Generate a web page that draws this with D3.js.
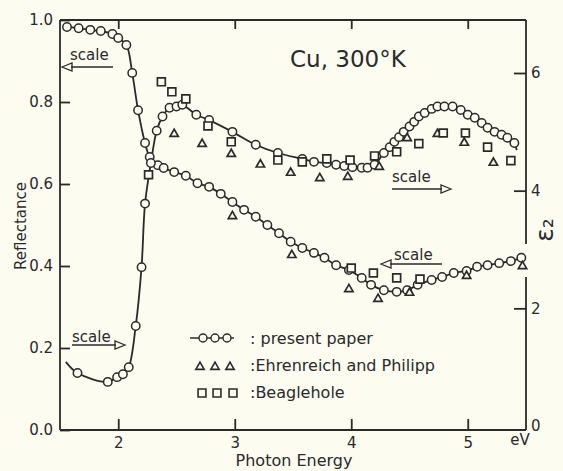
<!DOCTYPE html>
<html>
<head>
<meta charset="utf-8">
<script src="https://cdnjs.cloudflare.com/ajax/libs/d3/7.8.5/d3.min.js"></script>
<style>
body { margin: 0; background: #fcfcf1; }
text { font-family: "DejaVu Sans", sans-serif; fill: #2a2a2a; }
</style>
</head>
<body>
<div id="chart"></div>
<script>
// reflectance, present paper (left scale)
var reflE = [1.56,1.66,1.76,1.85,1.95,2.00,2.07,2.12,2.17,2.23,2.27,2.34,2.39,2.48,2.58,2.68,2.78,2.88,2.98,3.08,3.18,3.28,3.38,3.48,3.58,3.68,3.77,3.87,3.98,4.09,4.17,4.28,4.39,4.48,4.57,4.69,4.78,4.88,4.99,5.08,5.17,5.27,5.37,5.46];
var reflR = [0.983,0.980,0.976,0.973,0.966,0.956,0.939,0.871,0.780,0.700,0.666,0.646,0.639,0.629,0.620,0.602,0.593,0.576,0.556,0.537,0.520,0.500,0.480,0.459,0.444,0.432,0.420,0.402,0.390,0.371,0.354,0.341,0.337,0.341,0.354,0.366,0.373,0.383,0.388,0.398,0.402,0.407,0.412,0.420];

// eps2, present paper (right scale)
var epsE = [1.65,1.91,1.99,2.04,2.09,2.15,2.20,2.23,2.28,2.33,2.38,2.44,2.50,2.55,2.67,2.78,2.98,3.18,3.37,3.58,3.68,3.79,3.87,3.94,4.01,4.09,4.14,4.20,4.28,4.33,4.37,4.41,4.45,4.50,4.54,4.58,4.63,4.69,4.74,4.80,4.87,4.94,5.00,5.06,5.12,5.17,5.23,5.29,5.34,5.40];
var epsV = [0.90,0.75,0.83,0.88,1.00,1.70,2.70,3.78,4.47,5.02,5.26,5.41,5.43,5.46,5.29,5.20,5.00,4.78,4.64,4.54,4.49,4.47,4.44,4.42,4.40,4.39,4.39,4.44,4.64,4.74,4.83,4.91,5.00,5.09,5.17,5.26,5.32,5.39,5.43,5.43,5.43,5.37,5.29,5.24,5.15,5.07,5.00,4.95,4.90,4.81];
// where the eps2 line starts and stops past the circles
var epsLineStart = [1.55, 1.09];
var epsLineEnd = [5.42, 4.69];

// Ehrenreich and Philipp
var ehrEpsE = [2.48,2.72,2.97,3.22,3.48,3.73,3.97,4.24,4.48,4.74,4.97,5.22];
var ehrEpsV = [4.98,4.81,4.64,4.46,4.32,4.23,4.25,4.42,4.91,4.98,4.83,4.49];
var ehrReflE = [2.98,3.49,3.98,4.23,4.50,4.99,5.47];
var ehrReflR = [0.524,0.429,0.346,0.322,0.337,0.378,0.402];

// Beaglehole
var bglEpsE = [2.26,2.37,2.46,2.58,2.77,2.97,3.37,3.58,3.79,3.99,4.20,4.39,4.58,4.79,4.98,5.17,5.37];
var bglEpsV = [4.27,5.85,5.68,5.56,5.10,4.83,4.52,4.49,4.54,4.52,4.59,4.66,4.80,4.98,4.98,4.74,4.51];
var bglReflE = [4.00,4.19,4.39,4.59];
var bglReflR = [0.395,0.383,0.371,0.368];

var xTicks = [2, 3, 4, 5];
var reflTicks = [0, 0.2, 0.4, 0.6, 0.8, 1.0];
var epsTicks = [0, 2, 4, 6];

var ink = "#2a2a2a";
var paper = "#fcfcf1";

var svg = d3.select("#chart")
        .append("svg")
        .attr("width", 563)
        .attr("height", 471);

svg.append("rect")
        .attr("width", 563)
        .attr("height", 471)
        .attr("fill", paper);

var x = d3.scaleLinear().domain([1.5, 5.5]).range([60, 526]);
var yR = d3.scaleLinear().domain([0, 1]).range([430, 20]);
var yE = d3.scaleLinear().domain([0, 6]).range([426, 73]);

function zip(a, b) {
    return a.map(function (d, i) { return [d, b[i]]; });
}

// frame
var frame = svg.append("g")
        .attr("stroke", ink)
        .attr("stroke-width", 1.8)
        .attr("fill", "none");
frame.append("line").attr("x1", 60).attr("y1", 20).attr("x2", 60).attr("y2", 430);
frame.append("line").attr("x1", 60).attr("y1", 430).attr("x2", 526).attr("y2", 430);
frame.append("line").attr("x1", 60).attr("y1", 20).attr("x2", 526).attr("y2", 20);
frame.append("line").attr("x1", 526).attr("y1", 20).attr("x2", 526).attr("y2", 244);
frame.append("line").attr("x1", 526).attr("y1", 277).attr("x2", 526).attr("y2", 430);

// axes
var leftAxis = svg.append("g")
        .attr("transform", "translate(60,0)")
        .call(d3.axisLeft(yR).tickValues(reflTicks).tickFormat(d3.format(".1f"))
              .tickSizeInner(-10).tickSizeOuter(0).tickPadding(7));
var bottomAxis = svg.append("g")
        .attr("transform", "translate(0,430)")
        .call(d3.axisBottom(x).tickValues(xTicks).tickFormat(d3.format("d"))
              .tickSizeInner(-11).tickSizeOuter(0).tickPadding(7));
var topAxis = svg.append("g")
        .attr("transform", "translate(0,20)")
        .call(d3.axisTop(x).tickValues(xTicks).tickFormat("")
              .tickSizeInner(-9).tickSizeOuter(0));
var rightAxis = svg.append("g")
        .attr("transform", "translate(526,0)")
        .call(d3.axisRight(yE).tickValues(epsTicks).tickFormat(d3.format("d"))
              .tickSizeInner(-12).tickSizeOuter(0).tickPadding(5));

[leftAxis, bottomAxis, topAxis, rightAxis].forEach(function (a) {
    a.select(".domain").remove();
    a.selectAll("line").attr("stroke", ink).attr("stroke-width", 1.8);
    a.selectAll("text")
        .attr("font-family", "DejaVu Sans, sans-serif")
        .attr("font-size", "15px")
        .attr("fill", ink);
});
rightAxis.selectAll(".tick").filter(function (d) { return d === 0; })
        .select("line").remove();

// curves
var line = d3.line().curve(d3.curveCatmullRom.alpha(0.5));

var reflPts = zip(reflE, reflR).map(function (d) { return [x(d[0]), yR(d[1])]; });
var epsPts = zip(epsE, epsV).map(function (d) { return [x(d[0]), yE(d[1])]; });
var epsLine = [[x(epsLineStart[0]), yE(epsLineStart[1])]]
        .concat(epsPts)
        .concat([[x(epsLineEnd[0]), yE(epsLineEnd[1])]]);

svg.append("path").attr("d", line(reflPts))
        .attr("fill", "none").attr("stroke", ink).attr("stroke-width", 1.8);
svg.append("path").attr("d", line(epsLine))
        .attr("fill", "none").attr("stroke", ink).attr("stroke-width", 1.8);

function circles(pts) {
    svg.append("g").selectAll("circle")
        .data(pts).enter().append("circle")
        .attr("cx", function (d) { return d[0]; })
        .attr("cy", function (d) { return d[1]; })
        .attr("r", 4.2)
        .attr("fill", paper)
        .attr("stroke", ink)
        .attr("stroke-width", 1.5);
}
circles(reflPts);
circles(epsPts);

var tri = d3.symbol().type(d3.symbolTriangle).size(30);
var sq = d3.symbol().type(d3.symbolSquare).size(62);

function symbols(pts, path, yShift) {
    svg.append("g").selectAll("path")
        .data(pts).enter().append("path")
        .attr("d", path)
        .attr("transform", function (d) {
            return "translate(" + d[0] + "," + (d[1] + yShift) + ")";
        })
        .attr("fill", paper)
        .attr("stroke", ink)
        .attr("stroke-width", 1.7);
}
symbols(zip(ehrEpsE, ehrEpsV).map(function (d) { return [x(d[0]), yE(d[1])]; }), tri, 1);
symbols(zip(ehrReflE, ehrReflR).map(function (d) { return [x(d[0]), yR(d[1])]; }), tri, 1);
symbols(zip(bglEpsE, bglEpsV).map(function (d) { return [x(d[0]), yE(d[1])]; }), sq, 0);
symbols(zip(bglReflE, bglReflR).map(function (d) { return [x(d[0]), yR(d[1])]; }), sq, 0);

// axis titles
svg.append("text")
        .attr("transform", "translate(26,226) rotate(-90)")
        .attr("text-anchor", "middle")
        .attr("font-size", "15px")
        .text("Reflectance");
svg.append("text")
        .attr("x", 294).attr("y", 466)
        .attr("text-anchor", "middle")
        .attr("font-size", "16px")
        .text("Photon  Energy");
svg.append("text")
        .attr("x", 520).attr("y", 445)
        .attr("text-anchor", "middle")
        .attr("font-size", "15px")
        .text("eV");
svg.append("text")
        .attr("transform", "translate(553,230) rotate(-90)")
        .attr("text-anchor", "middle")
        .attr("font-size", "25px")
        .text("ε₂");
svg.append("text")
        .attr("x", 290).attr("y", 67)
        .attr("font-size", "23px")
        .text("Cu, 300°K");

// "scale" arrows
function scaleArrow(tx, ty, x1, x2, ay) {
    svg.append("text")
        .attr("x", tx).attr("y", ty)
        .attr("font-size", "15px")
        .text("scale");
    var dir = x2 > x1 ? 1 : -1;
    svg.append("line")
        .attr("x1", x1).attr("y1", ay).attr("x2", x2 - dir * 9).attr("y2", ay)
        .attr("stroke", ink).attr("stroke-width", 1.3);
    svg.append("path")
        .attr("d", "M" + x2 + "," + ay + "L" + (x2 - dir * 10) + "," + (ay - 4) +
                   "L" + (x2 - dir * 10) + "," + (ay + 4) + "Z")
        .attr("fill", "none").attr("stroke", ink).attr("stroke-width", 1.3);
}
scaleArrow(70, 60, 113, 62, 67);
scaleArrow(72, 342, 72, 125, 345);
scaleArrow(392, 182, 392, 451, 189);
scaleArrow(394, 260, 442, 381, 264);

// legend
var leg = svg.append("g");
leg.append("line").attr("x1", 190).attr("y1", 338).attr("x2", 234).attr("y2", 338)
        .attr("stroke", ink).attr("stroke-width", 1.6);
leg.selectAll("circle").data([203, 215, 227]).enter().append("circle")
        .attr("cx", function (d) { return d; }).attr("cy", 338).attr("r", 4)
        .attr("fill", paper).attr("stroke", ink).attr("stroke-width", 1.4);
leg.selectAll(".lt").data([200, 215, 230]).enter().append("path")
        .attr("d", tri)
        .attr("transform", function (d) { return "translate(" + d + ",367)"; })
        .attr("fill", paper).attr("stroke", ink).attr("stroke-width", 1.6);
leg.selectAll(".ls").data([202, 217, 233]).enter().append("path")
        .attr("d", sq)
        .attr("transform", function (d) { return "translate(" + d + ",393)"; })
        .attr("fill", paper).attr("stroke", ink).attr("stroke-width", 1.6);
var legText = [": present  paper", ":Ehrenreich and Philipp", ":Beaglehole"];
leg.selectAll("text").data(legText).enter().append("text")
        .attr("x", 250)
        .attr("y", function (d, i) { return 344 + i * 27; })
        .attr("font-size", "16px")
        .text(function (d) { return d; });
</script>
</body>
</html>
